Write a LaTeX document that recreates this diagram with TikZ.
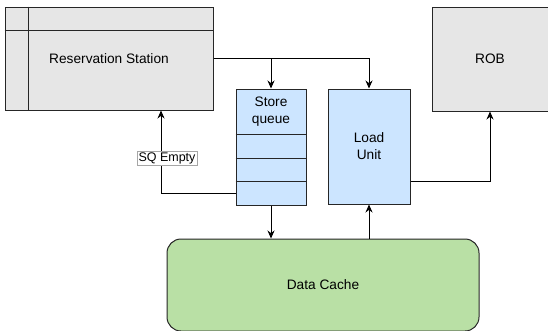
\documentclass[tikz,border=0pt]{standalone}
\usepackage{fontspec}
\setmainfont{Liberation Sans}
\usetikzlibrary{arrows.meta}
\definecolor{unitgray}{HTML}{E6E6E6}
\definecolor{unitblue}{HTML}{CCE5FF}
\definecolor{cachegreen}{HTML}{B9E0A5}

\begin{document}
\begin{tikzpicture}[x=1pt,y=-1pt,
		box/.style={draw=black!85, line width=1pt, inner sep=0pt, align=center, font=\fontsize{13.7}{17}\selectfont},
		graybox/.style={box, fill=unitgray},
		bluebox/.style={box, fill=unitblue},
		tag/.style={draw=black!35, fill=white, inner sep=1.5pt, line width=0.5pt, font=\fontsize{12.5}{14}\selectfont},
		wire/.style={line width=0.9pt, -{Stealth[length=8pt,width=7pt]}}]
		\useasboundingbox (0,0) rectangle (548,330);
		% units
		\node [graybox, minimum width=208pt, minimum height=103pt] (rs) at (109,58.5) {Reservation Station};
		\draw [line width=1pt, black!85] ([xshift=24pt]rs.north west) -- ([xshift=24pt]rs.south west);
		\draw [line width=1pt, black!85] ([yshift=-24pt]rs.north west) -- ([yshift=-24pt]rs.north east);
		\node [graybox, minimum width=116pt, minimum height=104pt] (rob) at (490,59) {ROB};
		\node [bluebox, minimum width=70pt, minimum height=116pt] (sq) at (271,147) {};
		\node [box, draw=none] (sqname) at (271,112) {Store\\queue};
		\foreach \row in {134,158,181}
			\draw [line width=1pt, black!85] (sq.west |- 0,\row) -- (sq.east |- 0,\row);
		\node [bluebox, minimum width=82pt, minimum height=115pt] (lu) at (369,146.5) {Load\\Unit};
		\node [box, fill=cachegreen, rounded corners=14pt, minimum width=312pt, minimum height=92pt] (dc) at (323,285) {Data Cache};
		% connections
		\draw [wire] (rs.east) -| (lu.north);
		\draw [wire] (sq.north |- rs.east) -- (sq.north);
		\draw [wire] (sq.west |- 0,193) -| (rs.south -| 161,0);
		\node [tag] (sqempty) at (167,158) {SQ Empty};
		\draw [wire] (sq.south) -- (sq.south |- dc.north);
		\draw [wire] (lu.south |- dc.north) -- (lu.south);
		\draw [wire] (lu.east |- 0,181) -| (rob.south);
	\end{tikzpicture}
\end{document}
